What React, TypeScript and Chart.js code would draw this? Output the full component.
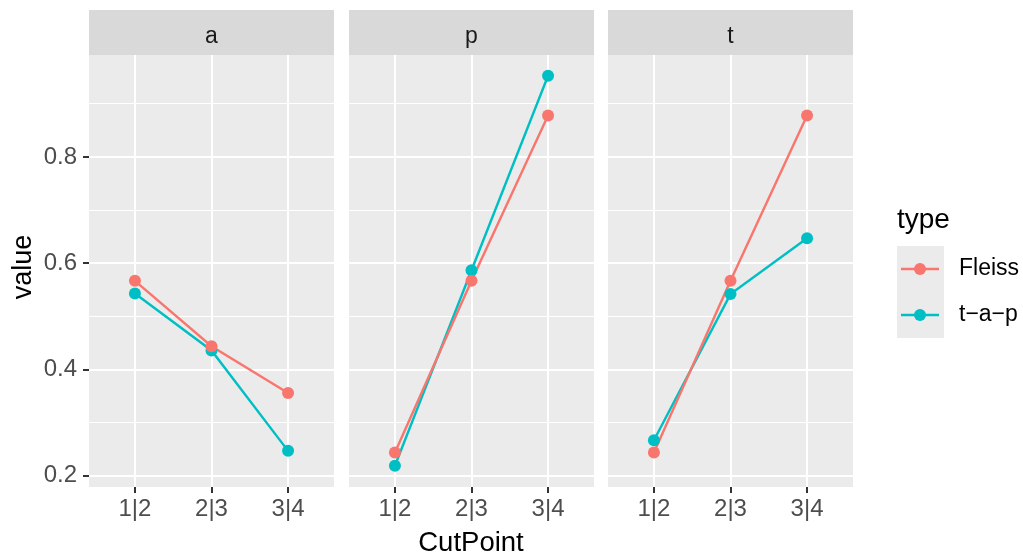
import React, { useEffect, useRef } from 'react';
import { Chart, registerables } from 'chart.js';

Chart.register(...registerables);

// ---- data ----
const facets = ['a', 'p', 't'];
const cutPoints = ['1|2', '2|3', '3|4'];
const seriesNames = ['Fleiss', 't\u2212a\u2212p'];
const seriesColors = ['#F8766D', '#00BFC4'];
const fleissA = [0.567, 0.444, 0.356];
const tapA = [0.543, 0.436, 0.247];
const fleissP = [0.244, 0.567, 0.878];
const tapP = [0.219, 0.587, 0.953];
const fleissT = [0.244, 0.567, 0.878];
const tapT = [0.267, 0.542, 0.647];
const yMajorTicks = [0.2, 0.4, 0.6, 0.8];
const yMinorTicks = [0.3, 0.5, 0.7, 0.9];
const yRange = [0.179, 0.992];
const xRange = [0.4, 3.6];
const xTitle = 'CutPoint';
const yTitle = 'value';
const legendTitle = 'type';

// ---- layout ----
const W = 1023;
const H = 554;
const PANEL_LEFTS = [89, 349, 608];
const PANEL_W = 245;
const TOP = 10;
const STRIP_H = 45;
const PANEL_BOTTOM = 487;
const Y_AXIS_W = 80;
const POINT_R = 6;
const LINE_W = 2.4;
const FONT = '"Liberation Sans", Arial, Helvetica, sans-serif';

const fleissByFacet = [fleissA, fleissP, fleissT];
const tapByFacet = [tapA, tapP, tapT];

function Panel({ index }: { index: number }) {
  const ref = useRef<HTMLCanvasElement | null>(null);
  const isFirst = index === 0;
  const isLast = index === facets.length - 1;
  const canvasLeft = PANEL_LEFTS[index] - Y_AXIS_W;
  const canvasW = isLast ? W - canvasLeft : PANEL_W + Y_AXIS_W;
  const canvasH = H - TOP;

  useEffect(() => {
    if (!ref.current) return;
    const toPts = (vals: number[]) => cutPoints.map((_, i) => ({ x: i + 1, y: vals[i] }));
    const series = [fleissByFacet[index], tapByFacet[index]];

    const datasets: any[] = [];
    series.forEach((vals, s) => {
      datasets.push({
        label: seriesNames[s],
        data: toPts(vals),
        showLine: false,
        pointRadius: POINT_R,
        pointBorderWidth: 0,
        pointBackgroundColor: seriesColors[s],
        borderColor: seriesColors[s],
        backgroundColor: seriesColors[s],
        order: 1 + s,
      });
    });
    series.forEach((vals, s) => {
      datasets.push({
        label: seriesNames[s] + ' line',
        data: toPts(vals),
        showLine: true,
        pointRadius: 0,
        borderWidth: LINE_W,
        borderColor: seriesColors[s],
        backgroundColor: seriesColors[s],
        order: 3 + s,
      });
    });

    const isMajor = (v: number) => yMajorTicks.includes(v);

    const panelPlugin = {
      id: 'facetPanel' + index,
      beforeDraw(chart: any) {
        const { ctx, chartArea } = chart;
        const { left, right, top, bottom } = chartArea;
        ctx.save();
        ctx.fillStyle = '#EBEBEB';
        ctx.fillRect(left, top, right - left, bottom - top);
        ctx.fillStyle = '#D9D9D9';
        ctx.fillRect(left, 0, right - left, top);
        ctx.fillStyle = '#1A1A1A';
        ctx.font = `23px ${FONT}`;
        ctx.textAlign = 'center';
        ctx.textBaseline = 'alphabetic';
        ctx.fillText(facets[index], (left + right) / 2, 43 - TOP);
        ctx.restore();
      },
      afterDraw(chart: any) {
        const { ctx } = chart;
        ctx.save();
        ctx.fillStyle = '#000000';
        if (isFirst) {
          ctx.font = `27px ${FONT}`;
          ctx.translate(31 - canvasLeft, 267 - TOP);
          ctx.rotate(-Math.PI / 2);
          ctx.textAlign = 'center';
          ctx.textBaseline = 'alphabetic';
          ctx.fillText(yTitle, 0, 0);
          ctx.setTransform(1, 0, 0, 1, 0, 0);
        }
        if (index === 1) {
          ctx.font = `27.5px ${FONT}`;
          ctx.textAlign = 'center';
          ctx.textBaseline = 'alphabetic';
          const cx = (PANEL_LEFTS[0] + PANEL_LEFTS[2] + PANEL_W) / 2;
          ctx.fillText(xTitle, cx - canvasLeft, 551 - TOP);
        }
        if (isLast) {
          const ox = -canvasLeft;
          const oy = -TOP;
          ctx.font = `28px ${FONT}`;
          ctx.textAlign = 'left';
          ctx.textBaseline = 'alphabetic';
          ctx.fillText(legendTitle, 897 + ox, 228 + oy);
          const keyTop = 246;
          const keyH = 46;
          ctx.fillStyle = '#EBEBEB';
          ctx.fillRect(897 + ox, keyTop + oy, 47, keyH * seriesNames.length);
          seriesNames.forEach((name, s) => {
            const cy = keyTop + keyH * s + keyH / 2 + oy;
            ctx.strokeStyle = seriesColors[s];
            ctx.lineWidth = LINE_W;
            ctx.beginPath();
            ctx.moveTo(901 + ox, cy);
            ctx.lineTo(939 + ox, cy);
            ctx.stroke();
            ctx.fillStyle = seriesColors[s];
            ctx.beginPath();
            ctx.arc(920 + ox, cy, POINT_R, 0, Math.PI * 2);
            ctx.fill();
            ctx.fillStyle = '#000000';
            ctx.font = `23px ${FONT}`;
            ctx.textBaseline = 'middle';
            ctx.fillText(name, 959 + ox, cy);
          });
        }
        ctx.restore();
      },
    };

    const chart = new Chart(ref.current, {
      type: 'scatter',
      data: { datasets },
      plugins: [panelPlugin],
      options: {
        animation: false,
        responsive: false,
        devicePixelRatio: 1,
        events: [],
        layout: {
          autoPadding: false,
          padding: { top: STRIP_H, left: 0, right: isLast ? W - (PANEL_LEFTS[index] + PANEL_W) : 0, bottom: 0 },
        },
        plugins: {
          legend: { display: false },
          tooltip: { enabled: false },
          title: { display: false },
        },
        scales: {
          x: {
            type: 'linear',
            min: xRange[0],
            max: xRange[1],
            afterBuildTicks: (s: any) => {
              s.ticks = cutPoints.map((_, i) => ({ value: i + 1 }));
            },
            afterFit: (s: any) => {
              s.height = H - PANEL_BOTTOM;
              s.paddingLeft = 0;
              s.paddingRight = 0;
            },
            ticks: {
              autoSkip: false,
              maxRotation: 0,
              minRotation: 0,
              padding: 2,
              color: '#4D4D4D',
              font: { family: FONT, size: 24 },
              callback: (v: any) => cutPoints[Math.round(v) - 1] ?? '',
            },
            grid: {
              color: '#FFFFFF',
              lineWidth: 2,
              drawTicks: true,
              tickLength: 6,
              tickColor: '#333333',
              tickWidth: 2,
            },
            border: { display: false },
          },
          y: {
            type: 'linear',
            min: yRange[0],
            max: yRange[1],
            afterBuildTicks: (s: any) => {
              s.ticks = [...yMajorTicks, ...yMinorTicks]
                .sort((a, b) => a - b)
                .map((v) => ({ value: v }));
            },
            afterFit: (s: any) => {
              s.width = Y_AXIS_W;
              s.paddingTop = 0;
              s.paddingBottom = 0;
            },
            ticks: {
              display: isFirst,
              autoSkip: false,
              padding: 6,
              color: '#4D4D4D',
              font: { family: FONT, size: 24 },
              callback: (v: any) => (isMajor(v) ? Number(v).toFixed(1) : ''),
            },
            grid: {
              color: '#FFFFFF',
              lineWidth: (c: any) => (c.tick && isMajor(c.tick.value) ? 2 : 1),
              drawTicks: isFirst,
              tickLength: 6,
              tickColor: (c: any) => (c.tick && isMajor(c.tick.value) ? '#333333' : 'rgba(0,0,0,0)'),
              tickWidth: 2,
            },
            border: { display: false },
          },
        },
      },
    } as any);

    return () => chart.destroy();
  }, [index]);

  return (
    <canvas
      ref={ref}
      width={canvasW}
      height={canvasH}
      style={{ position: 'absolute', left: canvasLeft, top: TOP, width: canvasW, height: canvasH }}
    />
  );
}

export default function App() {
  return (
    <div
      style={{
        position: 'fixed',
        left: 0,
        top: 0,
        width: W,
        height: H,
        background: '#FFFFFF',
        overflow: 'hidden',
      }}
    >
      {facets.map((_, i) => (
        <Panel key={i} index={i} />
      ))}
    </div>
  );
}
